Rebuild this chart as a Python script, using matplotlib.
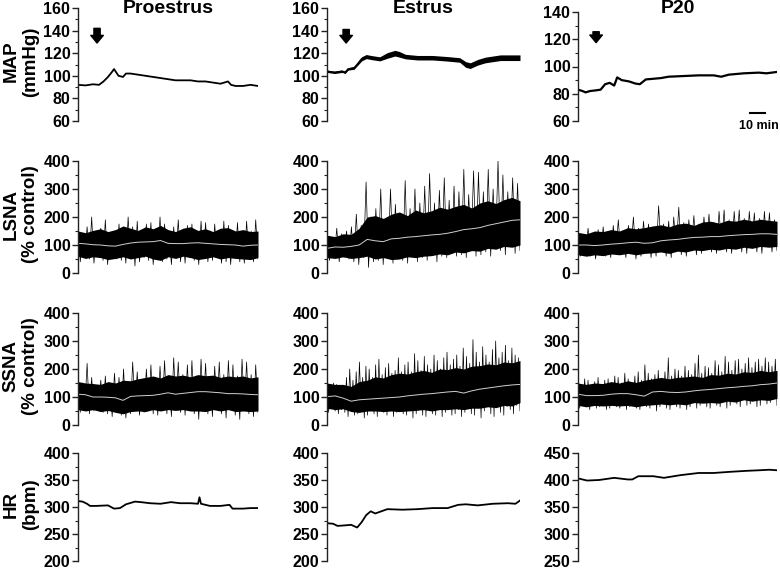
import numpy as np
import matplotlib
matplotlib.use("Agg")
from matplotlib import pyplot as plt
from matplotlib.ticker import MultipleLocator

plt.rcParams['font.family'] = ['Liberation Sans', 'DejaVu Sans']
plt.rcParams['font.weight'] = 'bold'

conditions = ["Proestrus", "Estrus", "P20"]
durations = [120, 128, 132]  # minutes shown in each column
row_labels = ["MAP\n(mmHg)", "LSNA\n(% control)", "SSNA\n(% control)", "HR\n(bpm)"]

# ---- MAP (mmHg) ----
map_pro_t = [0, 5, 10, 14, 17, 20, 23, 24, 25, 27, 30, 32, 35, 40, 45, 50, 55, 60, 65, 70,
             75, 80, 85, 90, 95, 100, 102, 105, 110, 115, 120]
map_pro = [92, 91.5, 92.5, 92, 95, 99, 104, 106, 104, 100, 99, 102, 102, 101, 100, 99, 98, 97,
           96, 96, 96, 95, 95, 94, 93, 95, 92, 91, 91, 92, 91]
map_est_t = [0, 5, 10, 12, 14, 18, 20, 23, 26, 30, 35, 40, 45, 48, 52, 60, 70, 80, 88, 92, 95,
             100, 105, 110, 115, 120, 128]
map_est = [104, 103, 104, 103, 106, 107, 110, 115, 117, 116, 115, 118, 120, 119, 117, 116, 116,
           115, 114, 110, 109, 112, 114, 115, 116, 116, 116]
map_est_spread = [1, 1, 1, 1, 1, 1.2, 1.2, 1.8, 1.8, 1.8, 1.8, 2.5, 2.5, 2.5, 2, 2, 2, 2, 2,
                  2.5, 2.5, 2.5, 2.5, 2.5, 2.5, 2.5, 2.5]
map_p20_t = [0, 3, 5, 8, 12, 15, 18, 21, 24, 26, 29, 34, 38, 41, 45, 50, 55, 60, 70, 80, 90, 95,
             100, 110, 120, 125, 132]
map_p20 = [83, 82, 81, 82, 82.5, 83, 87, 88, 86, 92, 90, 89, 87.5, 87, 90.5, 91, 91.5, 92.5, 93,
           93.5, 93.5, 92.5, 94, 95, 95.5, 95, 96]

# ---- LSNA (% control) ----
lsna_pro_mean = [106, 104, 101, 100, 97, 96, 102, 107, 110, 111, 112, 116, 106, 105, 105, 107,
                 108, 106, 104, 102, 101, 100, 96, 99, 100]
lsna_pro_hi = [150, 144, 152, 158, 148, 155, 168, 160, 152, 165, 158, 170, 155, 148, 160, 165,
               152, 158, 148, 160, 162, 150, 155, 148, 150]
lsna_pro_lo = [60, 52, 58, 55, 48, 52, 58, 50, 55, 60, 50, 45, 58, 52, 60, 55, 48, 52, 58, 50,
               55, 52, 50, 48, 55]
lsna_pro_peaks = [175, 130, 165, 200, 140, 160, 190, 135, 150, 175, 140, 200, 165, 185, 130, 175,
                  180, 145, 200, 175, 140, 165, 190, 150, 170, 175, 140, 185, 180, 150, 175, 135,
                  185, 170, 145, 180, 140, 185, 150, 190]
lsna_pro_troughs = [40, 65, 50, 35, 60, 45, 30, 62, 50, 45, 35, 60, 25, 40, 55, 45, 30, 60, 40,
                    50, 30, 58, 40, 35, 55, 45, 30, 60, 40, 45, 55, 35, 40, 30, 60, 40, 35, 55,
                    40, 50]

lsna_est_mean = [88, 93, 92, 95, 100, 120, 115, 112, 122, 124, 128, 130, 133, 136, 138, 142, 148,
                 155, 158, 162, 170, 176, 182, 188, 190]
lsna_est_hi = [135, 130, 140, 138, 160, 200, 205, 195, 210, 218, 205, 225, 215, 222, 235, 228,
               238, 245, 232, 250, 258, 248, 262, 270, 258]
lsna_est_lo = [55, 52, 58, 52, 55, 60, 50, 55, 48, 50, 58, 55, 60, 62, 68, 65, 75, 72, 80, 78,
               88, 85, 95, 92, 100]
lsna_est_peaks = [150, 125, 160, 140, 150, 165, 210, 170, 325, 200, 230, 300, 190, 300, 245, 210,
                  330, 230, 300, 250, 310, 355, 250, 295, 340, 260, 310, 290, 370, 280, 365, 360,
                  290, 370, 300, 400, 350, 290, 340, 320]
lsna_est_troughs = [45, 60, 40, 55, 50, 40, 30, 55, 20, 40, 45, 30, 55, 35, 50, 45, 35, 65, 40,
                    55, 45, 70, 40, 60, 55, 75, 60, 65, 55, 85, 60, 65, 75, 60, 90, 80, 65, 95,
                    70, 80]

lsna_p20_mean = [100, 100, 98, 100, 103, 105, 108, 110, 106, 108, 115, 118, 120, 124, 127, 128,
                 130, 130, 133, 135, 137, 138, 140, 140, 138]
lsna_p20_hi = [145, 140, 150, 148, 155, 150, 162, 158, 162, 168, 172, 165, 175, 178, 170, 182,
               185, 178, 188, 185, 192, 186, 192, 188, 185]
lsna_p20_lo = [65, 60, 65, 62, 68, 65, 70, 65, 70, 72, 75, 70, 78, 75, 82, 80, 85, 82, 88, 85,
               92, 88, 95, 92, 95]
lsna_p20_peaks = [150, 130, 160, 140, 155, 165, 145, 170, 190, 150, 170, 200, 160, 185, 175, 160,
                  240, 175, 185, 200, 235, 180, 190, 205, 175, 200, 210, 180, 220, 225, 190, 220,
                  225, 195, 220, 215, 195, 220, 215, 190]
lsna_p20_troughs = [60, 75, 60, 50, 70, 60, 55, 75, 65, 55, 80, 50, 60, 80, 55, 60, 85, 60, 55,
                    90, 65, 60, 90, 65, 70, 95, 75, 70, 95, 75, 70, 100, 75, 70, 100, 75, 70,
                    95, 75, 80]

# ---- SSNA (% control) ----
ssna_pro_mean = [110, 108, 100, 100, 99, 97, 88, 102, 104, 105, 106, 110, 115, 110, 113, 116,
                 119, 119, 117, 115, 112, 112, 111, 109, 108]
ssna_pro_hi = [155, 150, 148, 145, 155, 150, 160, 158, 165, 170, 175, 168, 180, 175, 178, 172,
               180, 176, 178, 170, 175, 172, 175, 168, 172]
ssna_pro_lo = [55, 50, 55, 48, 52, 45, 40, 48, 50, 48, 55, 50, 55, 52, 55, 50, 50, 48, 55, 50,
               55, 48, 50, 48, 50]
ssna_pro_peaks = [200, 150, 220, 170, 140, 160, 175, 140, 185, 170, 200, 150, 225, 190, 160, 200,
                  215, 170, 210, 230, 175, 240, 225, 180, 215, 230, 175, 235, 220, 170, 210, 225,
                  180, 230, 215, 175, 235, 225, 180, 215]
ssna_pro_troughs = [45, 60, 40, 50, 65, 45, 40, 30, 55, 35, 25, 40, 60, 35, 45, 60, 40, 35, 55,
                    40, 30, 60, 45, 35, 55, 40, 20, 55, 40, 30, 55, 40, 25, 55, 35, 20, 55, 40,
                    30, 45]

ssna_est_mean = [101, 104, 96, 85, 90, 92, 94, 96, 98, 100, 104, 107, 110, 112, 115, 118, 120,
                 114, 122, 128, 132, 136, 140, 143, 145]
ssna_est_hi = [150, 145, 145, 138, 155, 160, 172, 168, 180, 185, 182, 190, 195, 188, 200, 198,
               205, 200, 210, 212, 218, 215, 225, 222, 230]
ssna_est_lo = [60, 55, 58, 48, 45, 50, 50, 48, 50, 48, 50, 52, 55, 50, 55, 55, 58, 55, 60, 60,
               65, 62, 70, 68, 80]
ssna_est_peaks = [155, 130, 150, 145, 125, 140, 170, 200, 160, 190, 225, 170, 210, 200, 170, 215,
                  235, 180, 205, 220, 185, 195, 240, 190, 215, 225, 190, 255, 230, 195, 245, 215,
                  200, 250, 230, 200, 240, 260, 215, 235, 250, 210, 275, 245, 220, 305, 260, 225,
                  280, 250, 225, 270, 300, 240, 260, 285, 230, 275, 250, 240]
ssna_est_troughs = [45, 60, 50, 40, 55, 45, 30, 55, 35, 40, 60, 25, 35, 55, 40, 30, 55, 45, 35,
                    55, 30, 45, 60, 40, 35, 55, 25, 40, 60, 35, 30, 55, 40, 35, 60, 30, 45, 60,
                    35, 40, 55, 30, 45, 65, 40, 35, 60, 25, 50, 65, 40, 30, 70, 45, 35, 65, 55,
                    40, 70, 50]

ssna_p20_mean = [110, 105, 105, 106, 110, 112, 112, 108, 103, 118, 120, 117, 116, 118, 122, 125,
                 127, 130, 133, 135, 138, 140, 144, 146, 150]
ssna_p20_hi = [150, 145, 150, 148, 155, 150, 158, 152, 160, 165, 170, 165, 170, 172, 175, 170,
               180, 178, 185, 182, 190, 188, 195, 190, 195]
ssna_p20_lo = [70, 65, 70, 68, 70, 68, 70, 65, 70, 72, 75, 72, 75, 72, 80, 78, 80, 78, 85, 82,
               90, 85, 90, 88, 95]
ssna_p20_peaks = [160, 135, 165, 160, 140, 155, 170, 145, 160, 165, 145, 175, 170, 150, 185, 165,
                  150, 175, 190, 160, 215, 185, 165, 180, 195, 165, 190, 240, 175, 200, 195, 175,
                  210, 195, 180, 220, 250, 185, 210, 205, 185, 230, 215, 190, 245, 225, 195, 230,
                  235, 200, 220, 240, 205, 225, 235, 210, 240, 225, 210, 235]
ssna_p20_troughs = [60, 75, 65, 55, 75, 60, 65, 75, 55, 60, 75, 65, 60, 78, 55, 65, 80, 60, 55,
                    78, 65, 60, 80, 50, 65, 80, 60, 55, 82, 65, 60, 85, 55, 65, 85, 60, 70, 85,
                    65, 60, 88, 70, 65, 90, 60, 70, 90, 75, 65, 95, 70, 75, 95, 65, 70, 95, 75,
                    80, 100, 70]

# ---- HR (bpm) ----
hr_pro_t = [0, 3, 6, 8, 12, 20, 24, 28, 32, 38, 42, 48, 55, 62, 68, 75, 80, 81, 82, 88, 95, 101,
            103, 110, 115, 120]
hr_pro = [311, 310, 306, 302, 302, 303, 297, 298, 305, 310, 309, 307, 306, 309, 307, 307, 306,
          318, 306, 302, 302, 304, 297, 297, 298, 298]
hr_est_t = [0, 4, 7, 12, 16, 20, 23, 26, 29, 32, 36, 40, 50, 60, 70, 80, 87, 92, 100, 110, 120,
            125, 128]
hr_est = [270, 269, 265, 266, 267, 262, 272, 285, 292, 288, 292, 296, 295, 296, 298, 298, 304,
          305, 303, 306, 307, 306, 312]
hr_p20_t = [0, 6, 14, 24, 33, 36, 40, 50, 57, 68, 80, 90, 100, 112, 120, 127, 132]
hr_p20 = [403, 399, 400, 404, 401, 401, 407, 407, 404, 409, 413, 413, 415, 417, 418, 419, 418]

# arrow marking injection: time (min), top value, bottom value
arrow_t = [12.7, 12.7, 12]
arrow_top = [142, 141, 125.5]
arrow_bot = [129, 129, 117.5]

ylims = [[(60, 160, 20), (60, 160, 20), (60, 140, 20)],
         [(0, 400, 100)] * 3,
         [(0, 400, 100)] * 3,
         [(200, 400, 50), (200, 400, 50), (250, 450, 50)]]

# layout in pixels (figure is 780 x 571)
W, H = 780, 571
col_left = [78, 327, 578]
col_right = [258, 520, 777]
row_top = [8, 161, 313, 453]
row_bot = [121, 273, 425, 561]

fig = plt.figure(figsize=(7.8, 5.71), dpi=100)
axes = []
for r in range(4):
    row = []
    for c in range(3):
        top = row_top[r]
        if r == 0 and c == 2:
            top = 12
        ax = fig.add_axes([col_left[c] / W, 1 - row_bot[r] / H,
                           (col_right[c] - col_left[c]) / W, (row_bot[r] - top) / H])
        lo, hi, step = ylims[r][c]
        ax.set_ylim(lo, hi)
        ax.set_xlim(0, durations[c])
        ax.yaxis.set_major_locator(MultipleLocator(step))
        ax.yaxis.set_minor_locator(MultipleLocator(step / 2))
        for s in ["top", "right", "bottom"]:
            ax.spines[s].set_visible(False)
        ax.spines["left"].set_linewidth(1.0)
        ax.spines["left"].set_color("#222222")
        ax.tick_params(axis="x", bottom=False, labelbottom=False)
        ax.tick_params(axis="y", which="major", direction="out", length=4, width=1,
                       pad=1.5, labelsize=11.5, color="#222222")
        ax.tick_params(axis="y", which="minor", direction="out", length=2.5, width=0.8,
                       color="#222222")
        for lab in ax.get_yticklabels():
            lab.set_fontweight("bold")
        ax.patch.set_alpha(0)
        row.append(ax)
    axes.append(row)


def draw_sna(ax, dur, mean, hi, lo, peaks, troughs):
    t = np.linspace(0, dur, len(mean))
    tz = np.linspace(0, dur, 2 * len(peaks))
    zig = np.empty(2 * len(peaks))
    zig[0::2] = peaks
    zig[1::2] = troughs
    ax.plot(tz, zig, color="black", lw=0.5)
    ax.fill_between(t, lo, hi, color="black", lw=0)
    ax.plot(t, mean, color="#d0d0d0", lw=0.7)


# MAP
axes[0][0].plot(map_pro_t, map_pro, color="black", lw=1.3)
est_lo = np.array(map_est) - np.array(map_est_spread)
est_hi = np.array(map_est) + np.array(map_est_spread)
axes[0][1].fill_between(map_est_t, est_lo, est_hi, color="black", lw=0)
axes[0][1].plot(map_est_t, map_est, color="black", lw=1.2)
axes[0][2].plot(map_p20_t, map_p20, color="black", lw=1.6)

# LSNA / SSNA
draw_sna(axes[1][0], durations[0], lsna_pro_mean, lsna_pro_hi, lsna_pro_lo, lsna_pro_peaks, lsna_pro_troughs)
draw_sna(axes[1][1], durations[1], lsna_est_mean, lsna_est_hi, lsna_est_lo, lsna_est_peaks, lsna_est_troughs)
draw_sna(axes[1][2], durations[2], lsna_p20_mean, lsna_p20_hi, lsna_p20_lo, lsna_p20_peaks, lsna_p20_troughs)
draw_sna(axes[2][0], durations[0], ssna_pro_mean, ssna_pro_hi, ssna_pro_lo, ssna_pro_peaks, ssna_pro_troughs)
draw_sna(axes[2][1], durations[1], ssna_est_mean, ssna_est_hi, ssna_est_lo, ssna_est_peaks, ssna_est_troughs)
draw_sna(axes[2][2], durations[2], ssna_p20_mean, ssna_p20_hi, ssna_p20_lo, ssna_p20_peaks, ssna_p20_troughs)

# HR
axes[3][0].plot(hr_pro_t, hr_pro, color="black", lw=1.3)
axes[3][1].plot(hr_est_t, hr_est, color="black", lw=1.3)
axes[3][2].plot(hr_p20_t, hr_p20, color="black", lw=1.3)

# arrows
for c in range(3):
    axes[0][c].annotate("", xy=(arrow_t[c], arrow_bot[c]), xytext=(arrow_t[c], arrow_top[c]),
                        arrowprops=dict(arrowstyle="simple,head_length=0.55,head_width=0.9,tail_width=0.45",
                                        color="black", shrinkA=0, shrinkB=0, mutation_scale=10))

# 10 min scale bar
axes[0][2].plot([114, 124], [65.9, 65.9], color="black", lw=1.5, clip_on=False)
axes[0][2].text(120, 56.3, "10 min", ha="center", va="center", fontsize=9,
                fontweight="bold", clip_on=False)

# column titles
for c in range(3):
    fig.text((col_left[c] + col_right[c]) / 2 / W, 1 - 8.5 / H, conditions[c],
             ha="center", va="center", fontsize=14, fontweight="bold")

# row labels
for r in range(4):
    fig.text(21 / W, 1 - ((row_top[r] + row_bot[r]) / 2 - 3) / H, row_labels[r],
             rotation=90, ha="center", va="center", fontsize=13.5, fontweight="bold",
             multialignment="center", linespacing=1.2)

fig.savefig("out.png", dpi=100)
